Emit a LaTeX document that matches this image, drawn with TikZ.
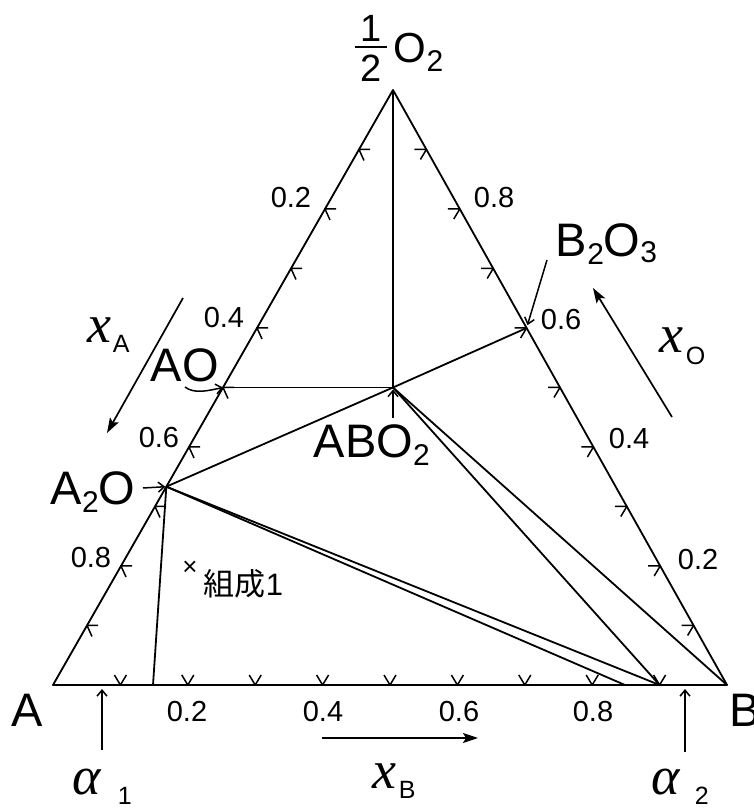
\documentclass[tikz,border=0pt]{standalone}
\usepackage{fontspec}
\setmainfont{Liberation Sans}
\newfontfamily\varit{Liberation Serif}
\newfontfamily\cjk{Noto Sans CJK JP}
\usetikzlibrary{arrows.meta,calc}
\newcommand{\lowsub}[2][8pt]{\raisebox{-#1}{\fontsize{30}{30}\selectfont #2}}
\begin{document}
\begin{tikzpicture}[x=1pt,y=1pt,line width=1.8pt,line join=round,
  big/.style={font=\fontsize{47}{47}\selectfont,inner sep=0pt},
  num/.style={font=\fontsize{29}{29}\selectfont,inner sep=0pt},
  fracdig/.style={font=\fontsize{38}{38}\selectfont,inner sep=0pt},
  osize/.style={font=\fontsize{42}{42}\selectfont,inner sep=0pt},
  var/.style={font=\fontsize{54}{54}\selectfont\varit\itshape,inner sep=0pt},
  varsub/.style={font=\fontsize{25}{25}\selectfont,inner sep=0pt},
  jp/.style={font=\fontsize{31}{31}\selectfont,inner sep=0pt},
  ptr/.style={-{Straight Barb[length=6pt,width=10pt]},line width=1.5pt},
  dirarrow/.style={-{Stealth[length=15pt,width=10pt,inset=3pt]},line width=1.7pt},
  tickmark/.style={line width=1.5pt}]
\useasboundingbox (0,0) rectangle (753,809);
\fill[white] (0,0) rectangle (753,809);
% vertices and compounds
\coordinate (A) at (53,124);
\coordinate (B) at (727,124);
\coordinate (O) at (393,719);
\coordinate (AO) at ($(A)!0.5!(O)$);
\coordinate (A2O) at ($(A)!1/3!(O)$);
\coordinate (B2O3) at ($(B)!0.6!(O)$);
\coordinate (ABO2) at (393,421.5);
\coordinate (P1) at (153,124);
\coordinate (P2) at (625,124);
\coordinate (P3) at ($(A)!0.9!(B)$);
% triangle
\draw (A) -- (B) -- (O) -- cycle;
% tie lines
\draw (O) -- (ABO2);
\draw (AO) -- (ABO2);
\draw (ABO2) -- (B2O3);
\draw (A2O) -- (ABO2);
\draw (ABO2) -- (P3);
\draw (ABO2) -- (B);
\draw (A2O) -- (P2);
\draw (A2O) -- (P3);
\draw (A2O) -- (P1);
% ticks
\foreach \t in {1,...,9}{
  \coordinate (vl) at ($(O)!\t/10!(A)$);
  \draw[tickmark] ($(vl)+(11,0)$) -- (vl) -- ($(vl)+(5,-11)$);
  \coordinate (vr) at ($(O)!\t/10!(B)$);
  \draw[tickmark] ($(vr)+(-12,0)$) -- (vr) -- ($(vr)+(-6,-10)$);
  \coordinate (vb) at ($(A)!\t/10!(B)$);
  \draw[tickmark] ($(vb)+(-6,10)$) -- (vb) -- ($(vb)+(6,10)$);
}
% vertex labels
\node[big,anchor=base west] (lA) at (11,82) {A};
\node[big,anchor=base west] (lB) at (729,82) {B};
\node[fracdig,anchor=base] (fone) at (371,767) {1};
\draw (355,762) -- (387,762);
\node[fracdig,anchor=base] (ftwo) at (371,727) {2};
\node[osize,anchor=base west] (lO) at (393,746) {O\lowsub[9pt]{2}};
% scale numbers base
\node[num,anchor=base] (b2) at (187,87) {0.2};
\node[num,anchor=base] (b4) at (323,87) {0.4};
\node[num,anchor=base] (b6) at (459,87) {0.6};
\node[num,anchor=base] (b8) at (593,87) {0.8};
% left
\node[num,anchor=base east] (l2) at (312,601) {0.2};
\node[num,anchor=base east] (l4) at (245,481) {0.4};
\node[num,anchor=base east] (l6) at (180,361) {0.6};
\node[num,anchor=base east] (l8) at (112,241) {0.8};
% right
\node[num,anchor=base west] (r8) at (473,601) {0.8};
\node[num,anchor=base west] (r6) at (540,479) {0.6};
\node[num,anchor=base west] (r4) at (608,360) {0.4};
\node[num,anchor=base west] (r2) at (677,239) {0.2};
% compound labels
\node[big,anchor=base west] (lAO) at (150,427) {AO};
\node[big,anchor=base west] (lABO2) at (313,351) {ABO\lowsub{2}};
\node[big,anchor=base west] (lA2O) at (50,304) {A\lowsub{2}O};
\node[big,anchor=base west] (lB2O3) at (555,552) {B\lowsub{2}O\lowsub[6pt]{3}};
% pointers
\coordinate (tAO) at (185,422);
\draw[ptr] (tAO) .. controls (194,415) and (207,418) .. (AO);
\coordinate (tA2O) at (143,321);
\draw[ptr,shorten >=1pt] (tA2O) -- (A2O);
\coordinate (tB2O3) at (547,549);
\draw[ptr,shorten >=3pt] (tB2O3) -- (B2O3);
\coordinate (tABO2) at (393,391);
\draw[ptr,shorten >=2pt] (tABO2) -- (ABO2);
% composition 1
\node[font=\fontsize{26}{26}\selectfont,inner sep=0pt] (cross) at (190,241) {×};
\node[jp,anchor=base west] (comp) at (203,213) {{\cjk 組成}1};
% direction arrows
\coordinate (xa1) at (183,511);
\coordinate (xa2) at (107,376);
\draw[dirarrow] (xa1) -- (xa2);
\coordinate (xo1) at (672,392);
\coordinate (xo2) at (593,521);
\draw[dirarrow] (xo1) -- (xo2);
\coordinate (xb1) at (322,71);
\coordinate (xb2) at (478,71);
\draw[dirarrow] (xb1) -- (xb2);
\node[var,anchor=base west] (xA) at (87,466) {x};
\node[varsub,anchor=base west] (xAs) at (112,456) {A};
\node[var,anchor=base west] (xO) at (659,456) {x};
\node[varsub,anchor=base west] (xOs) at (685,444) {O};
\node[var,anchor=base west] (xB) at (372,20) {x};
\node[varsub,anchor=base west] (xBs) at (398,10) {B};
% alpha arrows
\node[var,anchor=base west] (al1) at (72,15) {α};
\node[varsub,anchor=base west] (al1s) at (117,5) {1};
\node[var,anchor=base west] (al2) at (651,15) {α};
\node[varsub,anchor=base west] (al2s) at (694,5) {2};
\coordinate (a1t) at (102,59);
\coordinate (a1h) at (102,120);
\draw[ptr] (a1t) -- (a1h);
\coordinate (a2t) at (685,57);
\coordinate (a2h) at (685,120);
\draw[ptr] (a2t) -- (a2h);
\end{tikzpicture}
\end{document}
